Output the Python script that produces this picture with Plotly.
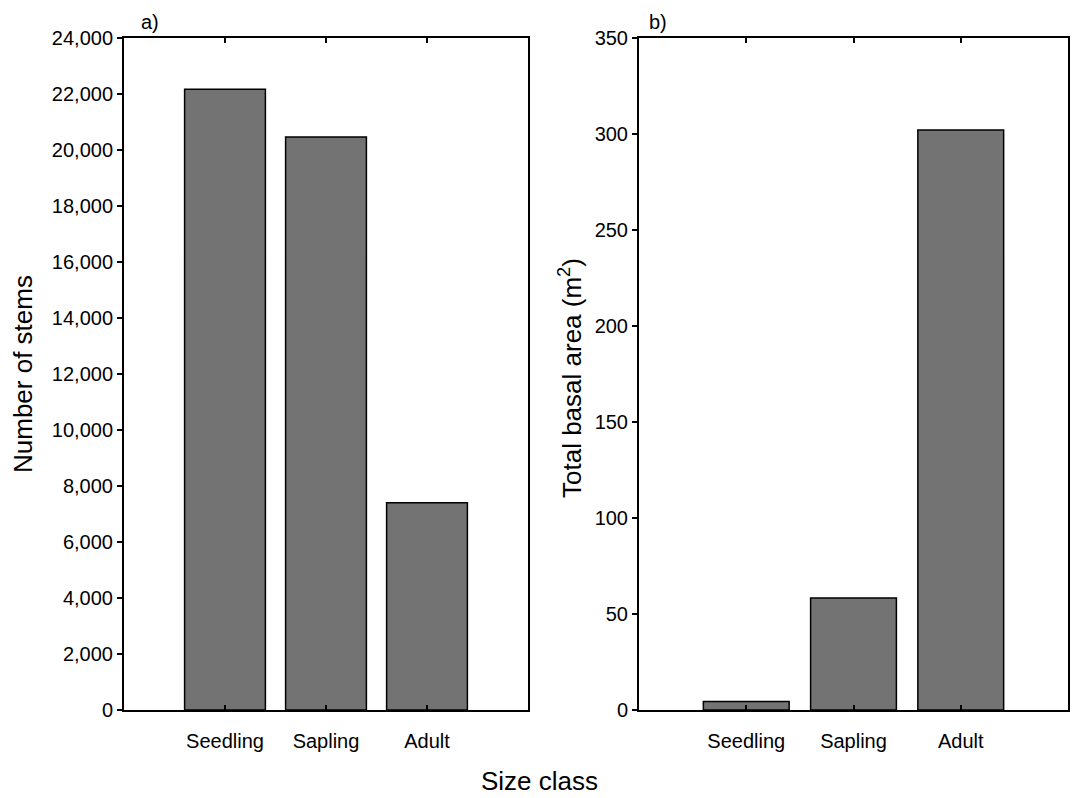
import plotly.graph_objects as go

categories = ["Seedling", "Sapling", "Adult"]
stems = [22150, 20450, 7400]
basal_area = [4.4, 58.3, 301.8]
stems_ticks = list(range(0, 24001, 2000))
basal_ticks = list(range(0, 351, 50))

xpos = [i + 1 for i in range(len(categories))]
FONT = "Liberation Sans, Arial, sans-serif"
BAR = "#737373"

fig = go.Figure()
fig.add_trace(go.Bar(x=xpos, y=stems, width=0.8, marker=dict(color=BAR, line=dict(color="black", width=1.5)),
                     xaxis="x", yaxis="y", showlegend=False))
fig.add_trace(go.Bar(x=xpos, y=basal_area, width=0.8, marker=dict(color=BAR, line=dict(color="black", width=1.5)),
                     xaxis="x2", yaxis="y2", showlegend=False))

ydom = [1 - 710 / 798, 1 - 37.5 / 798]
xd1 = [124 / 1073, 528 / 1073]
xd2 = [639 / 1073, 1068 / 1073]

xcommon = dict(range=[0, 4], tickvals=xpos, ticktext=categories, ticks="inside", ticklen=5, tickwidth=1.5,
               tickcolor="black", showline=True, linecolor="black", linewidth=2, mirror="ticks",
               showgrid=False, zeroline=False, automargin=False, ticklabelstandoff=12,
               tickfont=dict(family=FONT, size=20, color="black"))
ycommon = dict(ticks="outside", ticklen=5, tickwidth=1.5, tickcolor="black", showline=True,
               linecolor="black", linewidth=2, mirror=True, showgrid=False, zeroline=False,
               automargin=False, tickfont=dict(family=FONT, size=20, color="black"))
yright = dict(side="right", ticks="inside", ticklen=5, tickwidth=1.5, tickcolor="black",
              showticklabels=False, showgrid=False, zeroline=False, showline=False, automargin=False)

fig.update_layout(
    width=1073, height=798, margin=dict(l=0, r=0, t=0, b=0),
    paper_bgcolor="white", plot_bgcolor="white",
    xaxis=dict(domain=xd1, anchor="y", **xcommon),
    xaxis2=dict(domain=xd2, anchor="y2", **xcommon),
    yaxis=dict(domain=ydom, anchor="x", range=[0, 24000], tickvals=stems_ticks,
               ticktext=[f"{v:,}" for v in stems_ticks], **ycommon),
    yaxis2=dict(domain=ydom, anchor="x2", range=[0, 350], tickvals=basal_ticks, **ycommon),
    yaxis3=dict(domain=ydom, anchor="x", overlaying="y", range=[0, 24000], tickvals=stems_ticks, **yright),
    yaxis4=dict(domain=ydom, anchor="x2", overlaying="y2", range=[0, 350], tickvals=basal_ticks, **yright),
)

ann = dict(xref="paper", yref="paper", showarrow=False, xanchor="center", yanchor="middle",
           font=dict(family=FONT, size=26, color="black"))
fig.add_annotation(text="Number of stems", x=23 / 1073, y=1 - 374 / 798, textangle=-90, **ann)
fig.add_annotation(text="Total basal area (m<sup>2</sup>)", x=571 / 1073, y=1 - 378 / 798, textangle=-90, **ann)
fig.add_annotation(text="Size class", x=539 / 1073, y=1 - 781 / 798, **ann)
fig.add_annotation(text="a)", x=150 / 1073, y=1 - 22 / 798,
                   **{**ann, "font": dict(family=FONT, size=20, color="black")})
fig.add_annotation(text="b)", x=658 / 1073, y=1 - 22 / 798,
                   **{**ann, "font": dict(family=FONT, size=20, color="black")})

fig.write_html("out.html")
